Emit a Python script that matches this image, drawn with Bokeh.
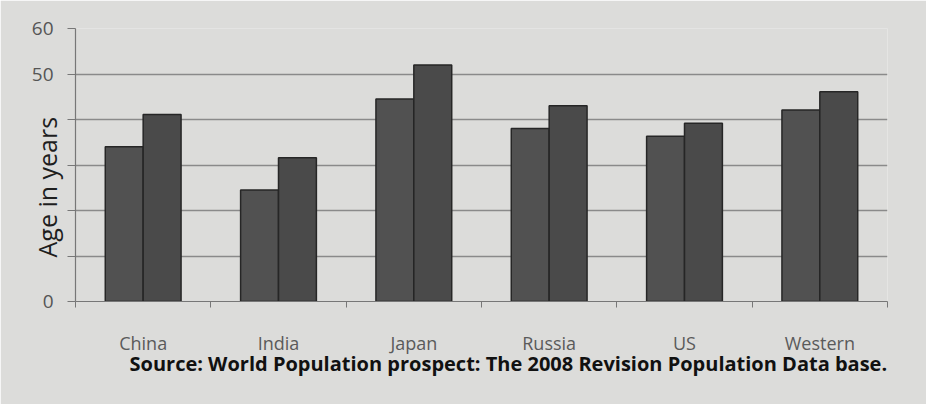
from bokeh.plotting import figure
from bokeh.models import FixedTicker, Range1d, Title, ColumnDataSource
from bokeh.embed import file_html
from bokeh.resources import INLINE

# ---- data ----
categories = ["China", "India", "Japan", "Russia", "US", "Western"]
age_first = [34.0, 24.5, 44.5, 38.0, 36.3, 42.1]
age_second = [41.1, 31.6, 52.0, 43.0, 39.2, 46.1]
y_ticks = [0, 10, 20, 30, 40, 50, 60]
y_tick_labels = {0: "0", 10: "", 20: "", 30: "", 40: "", 50: "50", 60: "60"}
source_text = "Source: World Population prospect: The 2008 Revision Population Data base."
y_title = "Age in years"

BG = "#dcdcda"
n = len(categories)
centers = [i + 0.5 for i in range(n)]
bar_w = 0.28

p = figure(width=926, height=404, output_backend="svg", toolbar_location=None,
           x_range=Range1d(0, n), y_range=Range1d(0, 60),
           min_border_left=75, min_border_right=39, min_border_top=28, min_border_bottom=103)
p.background_fill_color = BG
p.border_fill_color = BG
p.outline_line_color = None

src1 = ColumnDataSource(dict(x=[c - bar_w / 2 for c in centers], top=age_first))
src2 = ColumnDataSource(dict(x=[c + bar_w / 2 for c in centers], top=age_second))
p.vbar(x="x", top="top", width=bar_w, source=src1, fill_color="#515151",
       line_color="#262626", line_width=1.5)
p.vbar(x="x", top="top", width=bar_w, source=src2, fill_color="#4a4a4a",
       line_color="#262626", line_width=1.5)

# x axis: labels at category centers, tick marks at category boundaries
p.xaxis.ticker = FixedTicker(ticks=centers, minor_ticks=list(range(n + 1)))
p.xaxis.major_label_overrides = {c: name for c, name in zip(centers, categories)}
p.xaxis.major_tick_out = 0
p.xaxis.major_tick_in = 0
p.xaxis.minor_tick_out = 6
p.xaxis.minor_tick_in = 0
p.xaxis.minor_tick_line_color = "#777777"
p.xaxis.axis_line_color = "#777777"
p.xaxis.axis_line_width = 1.2
p.xaxis.major_label_standoff = 23
p.xaxis.major_label_text_font = "Open Sans"
p.xaxis.major_label_text_font_size = "18px"
p.xaxis.major_label_text_color = "#5a5a5a"
p.xgrid.grid_line_color = None

# y axis
p.yaxis.ticker = FixedTicker(ticks=y_ticks)
p.yaxis.major_label_overrides = y_tick_labels
p.yaxis.major_tick_out = 8
p.yaxis.major_tick_in = 0
p.yaxis.minor_tick_line_color = None
p.yaxis.major_tick_line_color = "#777777"
p.yaxis.axis_line_color = "#777777"
p.yaxis.axis_line_width = 1.2
p.yaxis.major_label_standoff = 14
p.yaxis.major_label_text_font = "Open Sans"
p.yaxis.major_label_text_font_size = "19px"
p.yaxis.major_label_text_color = "#555555"
p.ygrid.grid_line_color = "#8a8a8a"
p.ygrid.grid_line_width = 1.5

ytitle = Title(text=y_title, align="left", offset=44, text_font="Open Sans",
               text_font_style="normal", text_font_size="25px", text_color="#1e1e1e",
               standoff=-70)
p.add_layout(ytitle, "left")

title = Title(text=source_text, align="left", offset=54, text_font="Open Sans",
              text_font_style="bold", text_font_size="20px", text_color="#111111",
              standoff=-20)
p.add_layout(title, "below")

open("out.html", "w").write(file_html(p, INLINE))
